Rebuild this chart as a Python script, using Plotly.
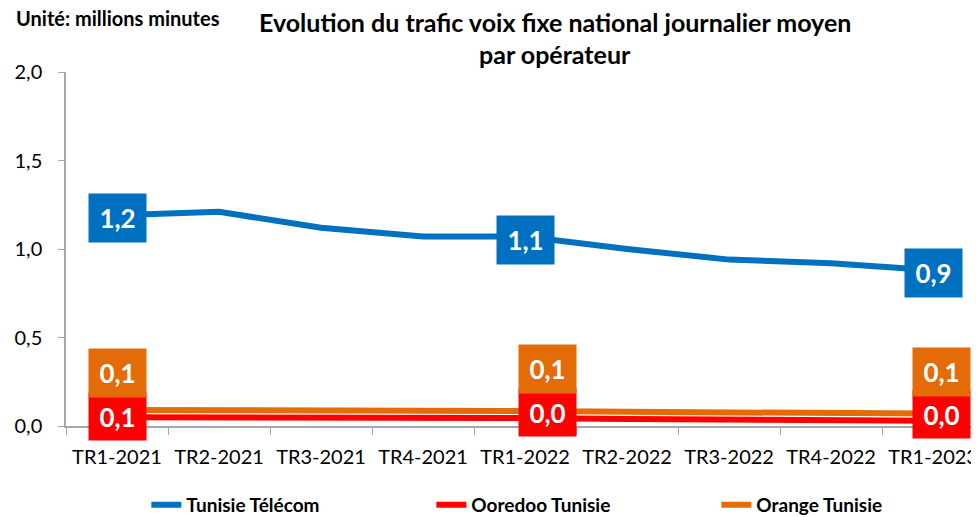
import plotly.graph_objects as go

categories = ["TR1-2021", "TR2-2021", "TR3-2021", "TR4-2021", "TR1-2022",
              "TR2-2022", "TR3-2022", "TR4-2022", "TR1-2023"]
tunisie_telecom = [1.19, 1.21, 1.12, 1.07, 1.07, 1.00, 0.94, 0.92, 0.88]
ooredoo = [0.05, 0.05, 0.045, 0.045, 0.045, 0.04, 0.035, 0.03, 0.03]
orange = [0.09, 0.09, 0.085, 0.085, 0.085, 0.08, 0.075, 0.07, 0.07]
label_idx = [0, 4, 8]

BLUE = "#0070C0"
RED = "#FF0000"
ORANGE = "#E36C09"
FONT = "Lato"

fig = go.Figure()
fig.add_trace(go.Scatter(x=categories, y=tunisie_telecom, mode="lines",
                         name="<b>Tunisie Télécom</b>", line=dict(color=BLUE, width=6),
                         legendrank=1))
fig.add_trace(go.Scatter(x=categories, y=orange, mode="lines",
                         name="<b>Orange Tunisie</b>", line=dict(color=ORANGE, width=6),
                         legendrank=3))
fig.add_trace(go.Scatter(x=categories, y=ooredoo, mode="lines",
                         name="<b>Ooredoo Tunisie</b>", line=dict(color=RED, width=6),
                         legendrank=2))


def fmt(v):
    return f"{v:.1f}".replace(".", ",")


annots = []
xshifts_small = {0: 0, 4: 22, 8: 8}
for i in label_idx:
    annots.append(dict(x=categories[i], y=tunisie_telecom[i], text=f"<b>{fmt(tunisie_telecom[i])}</b>",
                       showarrow=False, bgcolor=BLUE, width=55, height=46, borderpad=1,
                       font=dict(color="white", size=26, family=FONT), yshift=-3))
    annots.append(dict(x=categories[i], y=ooredoo[i], text=f"<b>{fmt(ooredoo[i])}</b>",
                       showarrow=False, bgcolor=RED, width=55, height=45, borderpad=1,
                       font=dict(color="white", size=26, family=FONT),
                       xshift=xshifts_small[i], yshift=1 if i == 0 else 6))
    annots.append(dict(x=categories[i], y=orange[i], text=f"<b>{fmt(orange[i])}</b>",
                       showarrow=False, bgcolor=ORANGE, width=55, height=46, borderpad=1,
                       font=dict(color="white", size=26, family=FONT),
                       xshift=xshifts_small[i], yshift=37 if i == 0 else 42))

annots.append(dict(xref="paper", yref="paper", x=-0.057, y=1.1525, xanchor="left", yanchor="middle",
                   text="<b>Unité: millions minutes</b>", showarrow=False,
                   font=dict(size=20, color="black", family=FONT)))
annots.append(dict(xref="paper", yref="paper", x=0.5356, y=1.1412, xanchor="center", yanchor="middle",
                   text="<b>Evolution du trafic voix fixe national journalier moyen</b>", showarrow=False,
                   font=dict(size=25, color="black", family=FONT)))
annots.append(dict(xref="paper", yref="paper", x=0.5356, y=1.0508, xanchor="center", yanchor="middle",
                   text="<b>par opérateur</b>", showarrow=False,
                   font=dict(size=25, color="black", family=FONT)))

fig.update_layout(
    width=971, height=509,
    margin=dict(l=58, r=0, t=64, b=91, autoexpand=False),
    paper_bgcolor="white", plot_bgcolor="white",
    separators=", ",
    font=dict(family=FONT, color="black"),
    annotations=annots,
    showlegend=True,
    legend=dict(orientation="h", x=0.088, y=-0.223, xanchor="left", yanchor="middle",
                entrywidth=240, entrywidthmode="pixels",
                font=dict(size=19, family=FONT, color="black"),
                traceorder="normal"),
    xaxis=dict(type="category", categoryorder="array", categoryarray=categories,
               range=[-0.5, 8.45], showgrid=False, showline=True, linecolor="#A6A6A6",
               linewidth=1.5, ticks="outside", tickson="boundaries", ticklen=7,
               tickcolor="#A6A6A6", ticklabelstandoff=12,
               tickfont=dict(size=20, family=FONT, color="black")),
    yaxis=dict(range=[0, 2.0], dtick=0.5, tickformat=".1f", showgrid=False, showline=True,
               linecolor="#A6A6A6", linewidth=1.5, ticks="outside", ticklen=6,
               tickcolor="#A6A6A6", ticklabelstandoff=12,
               tickfont=dict(size=20, family=FONT, color="black"), zeroline=False),
)

fig.write_html("out.html")
